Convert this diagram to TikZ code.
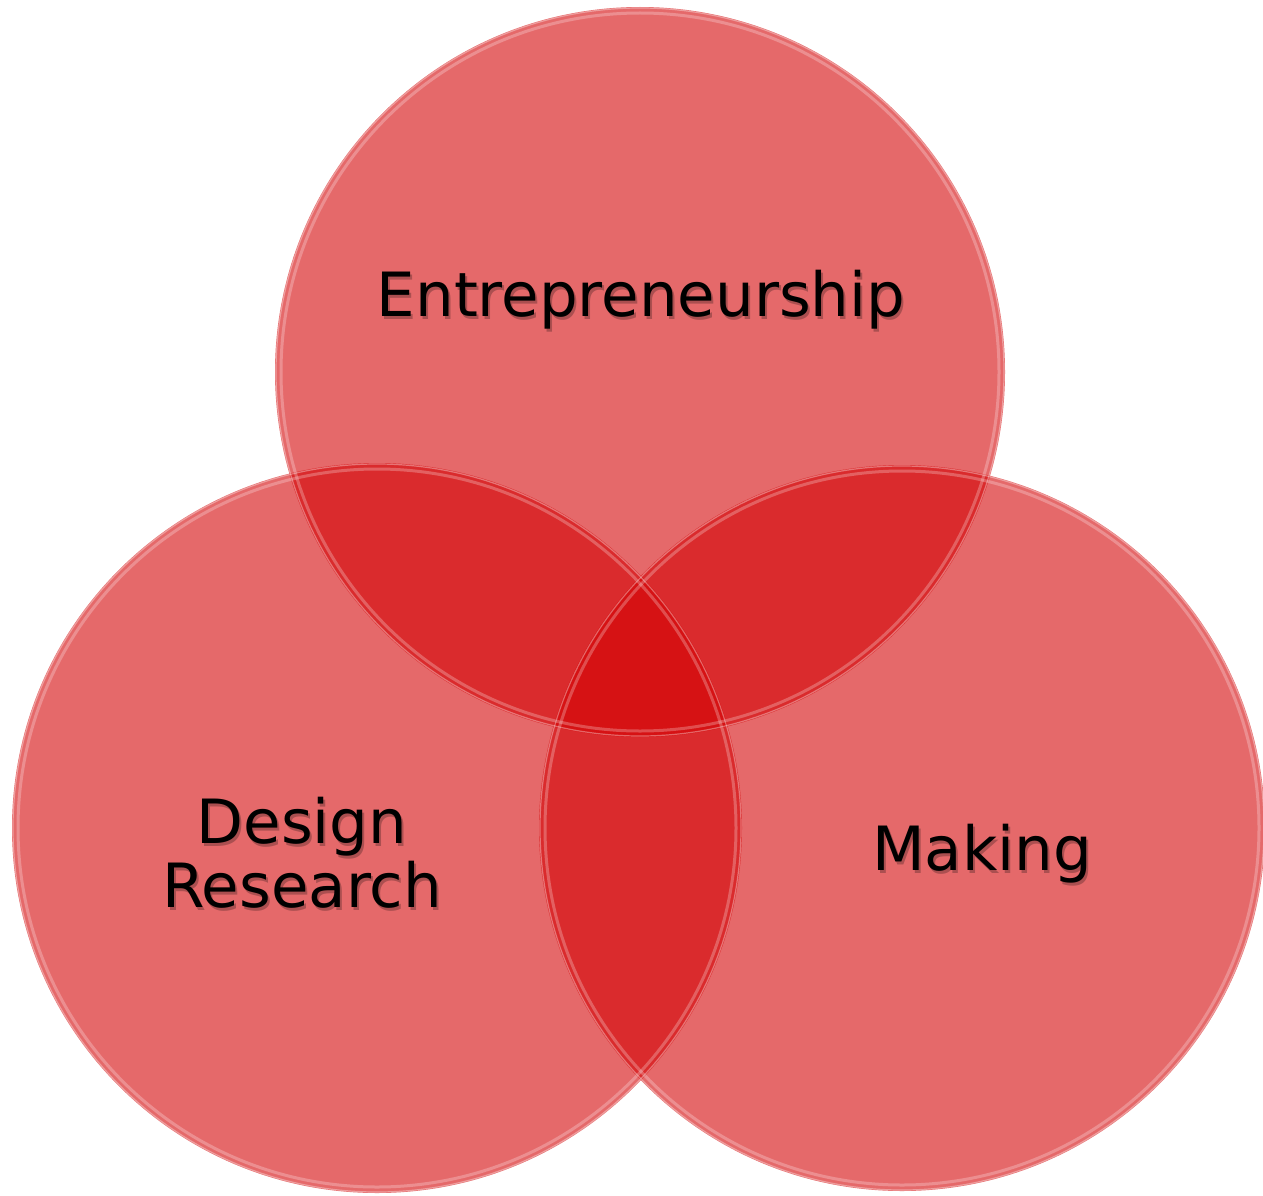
\documentclass[tikz,border=0pt]{standalone}
\usepackage{fontspec}
\setmainfont{DejaVu Sans}
\definecolor{vred}{RGB}{211,0,2}
\tikzset{
  venn/.style={circle, inner sep=0pt, minimum size=#1, fill=vred, fill opacity=0.59, draw=none},
  rim/.style={draw=white, line width=3pt, opacity=0.25},
  rimout/.style={draw=white, line width=1.2pt, opacity=0.35},
  lbl/.style={font=\fontsize{61}{66}\selectfont, text=black, align=center, inner sep=0pt},
  shd/.style={font=\fontsize{61}{66}\selectfont, text=black, text opacity=0.25, align=center, inner sep=0pt},
}
\begin{document}
\begin{tikzpicture}[x=1pt,y=1pt]
\useasboundingbox (0,0) rectangle (1263,-1196);
% circles
\node[venn=730pt] (top) at (640,-372) {};
\node[venn=730pt] (left) at (377,-828) {};
\node[venn=726pt] (right) at (902,-828) {};
% glossy rims
\foreach \c/\r in {top/365, left/365, right/363}{
  \draw[rim] (\c.center) circle ({\r-6});
  \draw[rimout] (\c.center) circle ({\r-1});
}
% text shadows
\node[shd] (ts) at (643,-302.5) {Entrepreneurship};
\node[shd] (ls) at (304,-855.5) {Design\\[-2pt]Research};
\node[shd] (rs) at (984,-856.5) {Making};
% labels
\node[lbl] (tl) at (641,-300) {Entrepreneurship};
\node[lbl] (ll) at (302,-853) {Design\\[-2pt]Research};
\node[lbl] (rl) at (982,-854) {Making};
\end{tikzpicture}
\end{document}
